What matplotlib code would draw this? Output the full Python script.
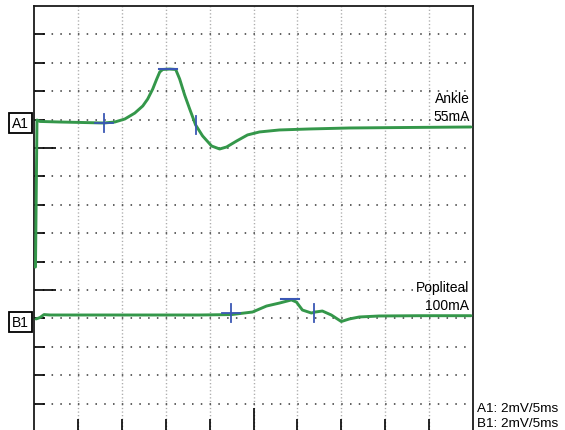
import numpy as np
import matplotlib.pyplot as plt
from matplotlib.transforms import blended_transform_factory

plt.rcParams['font.family'] = ['Liberation Sans', 'DejaVu Sans']
plt.rcParams['lines.scale_dashes'] = False

# sweep settings
MS_PER_DIV = 5
MV_PER_DIV = 2
N_XDIV = 10
N_YDIV = 14

channels = ['A1', 'B1']
sites = ['Ankle', 'Popliteal']
stim = ['55mA', '100mA']
sens = ['2mV/5ms', '2mV/5ms']
baseline_mv = [-8.0, -22.0]   # screen position of each channel's zero

# A1 - ankle stimulation
a1_t = [0.10, 0.17, 0.34, 0.68, 2.95, 5.23, 7.95, 9.20, 10.34, 11.48, 12.39,
        12.95, 13.52, 13.98, 14.32, 14.66, 15.45, 16.14, 16.59, 17.16, 17.73,
        18.41, 19.20, 20.23, 21.14, 21.93, 23.07, 24.32, 25.68, 27.95, 31.36,
        35.91, 41.59, 49.77]
a1_v = [-10.38, -10.38, -0.03, -0.13, -0.17, -0.20, -0.24, -0.17, 0.04, 0.46,
        0.96, 1.45, 2.15, 2.86, 3.35, 3.53, 3.56, 3.53, 2.86, 1.73, 0.75,
        -0.38, -1.15, -1.86, -2.07, -1.93, -1.51, -1.08, -0.87, -0.73, -0.66,
        -0.59, -0.56, -0.52]

# B1 - popliteal stimulation
b1_t = [0.23, 0.68, 1.14, 1.82, 7.50, 13.18, 18.86, 22.50, 24.89, 26.48,
        27.95, 29.32, 29.89, 30.57, 31.59, 32.05, 32.84, 33.86, 35.00, 35.91,
        37.05, 39.32, 43.86, 49.77]
b1_v = [-0.04, 0.06, 0.27, 0.24, 0.24, 0.24, 0.24, 0.27, 0.45, 0.87, 1.08,
        1.30, 1.15, 0.59, 0.38, 0.45, 0.52, 0.24, -0.22, -0.04, 0.10, 0.17,
        0.19, 0.19]

# cursors: onset, peak, end (ms, mV)
a1_cursors = [(7.95, -0.24), (15.25, 3.56), (18.41, -0.38)]
b1_cursors = [(22.45, 0.38), (29.15, 1.37), (31.93, 0.38)]

traces = [(a1_t, a1_v, a1_cursors), (b1_t, b1_v, b1_cursors)]

GREEN = '#34974a'
BLUE = '#3a57b4'

fig = plt.figure(figsize=(5.65, 4.31), dpi=100)
ax = fig.add_axes([34 / 565, 0, 439 / 565, 424 / 431])
ax.set_xlim(0, N_XDIV * MS_PER_DIV)
ax.set_ylim(-424 / 28.4 * MV_PER_DIV, 0)

# dotted screen grid
for k in range(1, N_XDIV):
    ax.axvline(k * MS_PER_DIV, color='#ababab', lw=1.0, ls=(0, (0.9, 1.66)), zorder=1)
for k in range(1, N_YDIV + 1):
    ax.axhline(-k * MV_PER_DIV, color='#454545', lw=1.2, ls=(0, (1.1, 5.22)), zorder=1)

half_w = 1.05   # ms
half_h = 0.63   # mV
for (t, v, cur), base in zip(traces, baseline_mv):
    ax.plot(t, np.array(v) + base, color=GREEN, lw=2.1,
            solid_joinstyle='round', solid_capstyle='round', zorder=3)
    (t0, v0), (tp, vp), (te, ve) = cur
    ax.plot([t0 - half_w, t0 + half_w], [v0 + base] * 2, color=BLUE, lw=1.3, zorder=4)
    ax.plot([t0, t0], [v0 + base - half_h, v0 + base + half_h], color=BLUE, lw=1.3, zorder=4)
    ax.plot([tp - half_w, tp + half_w], [vp + base] * 2, color=BLUE, lw=1.5, zorder=4)
    ax.plot([te, te], [ve + base - half_h, ve + base + half_h], color=BLUE, lw=1.3, zorder=4)

# channel tags on the left
trans = blended_transform_factory(fig.transFigure, ax.transData)
for name, base in zip(channels, baseline_mv):
    ax.text(20.5 / 565, base - 0.25, name, transform=trans, ha='center', va='center',
            fontsize=10, clip_on=False,
            bbox=dict(boxstyle='square,pad=0.24', fc='white', ec='black', lw=1.3))

# site / stimulus annotations
ax.text(49.6, baseline_mv[0] + 1.24, sites[0], ha='right', va='baseline', fontsize=10)
ax.text(49.6, baseline_mv[0] - 0.03, stim[0], ha='right', va='baseline', fontsize=10)
ax.text(49.6, baseline_mv[1] + 1.93, sites[1], ha='right', va='baseline', fontsize=10)
ax.text(49.6, baseline_mv[1] + 0.66, stim[1], ha='right', va='baseline', fontsize=10)

fig.text(477 / 565, 1 - 412 / 431, f'{channels[0]}: {sens[0]}', ha='left', va='baseline', fontsize=9.7)
fig.text(477 / 565, 1 - 427 / 431, f'{channels[1]}: {sens[1]}', ha='left', va='baseline', fontsize=9.7)

# ticks: long at the centre/marked divisions, short elsewhere
ax.set_xticks([25])
ax.set_xticks([5, 10, 15, 20, 30, 35, 40, 45], minor=True)
ax.set_yticks([-10, -20])
ax.set_yticks([-2 * k for k in range(1, N_YDIV + 1) if k not in (5, 10)], minor=True)
ax.tick_params(which='both', direction='in', left=True, bottom=True, top=False, right=False,
               labelleft=False, labelbottom=False, color='black', width=1.2)
ax.tick_params(which='major', length=16)
ax.tick_params(which='minor', length=8)

ax.spines['bottom'].set_visible(False)
for s in ['left', 'top', 'right']:
    ax.spines[s].set_linewidth(1.3)
    ax.spines[s].set_color('#1a1a1a')

fig.savefig('out.png', dpi=100)
